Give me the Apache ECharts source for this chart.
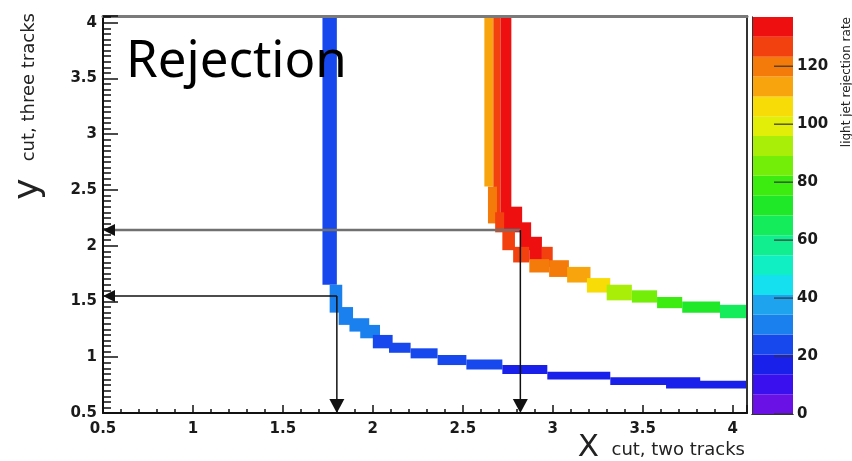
<!DOCTYPE html>
<html>
<head>
<meta charset="utf-8">
<script src="https://cdn.jsdelivr.net/npm/echarts@6/dist/echarts.min.js"></script>
<style>
html, body { margin: 0; padding: 0; background: #fff; }
#chart { width: 852px; height: 461px; }
</style>
</head>
<body>
<div id="chart"></div>
<script>
// Axis ranges of the cut plane and of the rejection-rate scale
const xRange = [0.5, 4.08];
const yRange = [0.5, 4.06];
const zRange = [0, 137];
const xTicks = [0.5, 1, 1.5, 2, 2.5, 3, 3.5, 4];
const yTicks = [0.5, 1, 1.5, 2, 2.5, 3, 3.5, 4];
const zTicks = [0, 20, 40, 60, 80, 100, 120];

// 20-level rainbow palette, violet (low) to red (high)
const palette = [
  '#6a12e6', '#3a10ee', '#1820ea', '#1648ee', '#1a80ee',
  '#1ea4ee', '#14e0f0', '#10eec4', '#10ee90', '#14ec5c',
  '#1ee828', '#3cec10', '#72ee08', '#a8ee08', '#e2ee08',
  '#f8dc08', '#f8a40c', '#f47a0a', '#f2400e', '#ee1010'
];

// Bins of the first working-point contour: [xLow, xHigh, yLow, yHigh, rejection]
const lowContour = [
  [1.72, 1.80, 1.65, 4.06, 24],
  [1.76, 1.83, 1.40, 1.65, 30],
  [1.81, 1.89, 1.29, 1.45, 31],
  [1.87, 1.98, 1.23, 1.35, 30],
  [1.93, 2.04, 1.17, 1.29, 28],
  [2.00, 2.11, 1.08, 1.20, 26],
  [2.09, 2.21, 1.04, 1.13, 25],
  [2.21, 2.36, 0.99, 1.08, 24],
  [2.36, 2.52, 0.93, 1.02, 23],
  [2.52, 2.72, 0.89, 0.98, 21],
  [2.72, 2.97, 0.85, 0.93, 20],
  [2.97, 3.32, 0.80, 0.87, 18],
  [3.32, 3.82, 0.75, 0.82, 17],
  [3.63, 4.08, 0.72, 0.79, 16]
];

// Bins of the second working-point contour: [xLow, xHigh, yLow, yHigh, rejection]
const highContour = [
  [2.62, 2.67, 2.53, 4.06, 113],
  [2.67, 2.71, 2.21, 4.06, 127],
  [2.71, 2.77, 2.14, 4.06, 134],
  [2.64, 2.69, 2.20, 2.53, 120],
  [2.76, 2.83, 2.12, 2.35, 133],
  [2.68, 2.73, 2.12, 2.30, 124],
  [2.72, 2.79, 1.96, 2.14, 126],
  [2.82, 2.88, 1.96, 2.21, 132],
  [2.78, 2.87, 1.85, 1.99, 125],
  [2.87, 2.94, 1.87, 2.08, 131],
  [2.94, 3.00, 1.81, 1.99, 126],
  [2.87, 2.98, 1.76, 1.88, 121],
  [2.98, 3.09, 1.72, 1.87, 119],
  [3.08, 3.21, 1.67, 1.81, 112],
  [3.19, 3.32, 1.58, 1.71, 105],
  [3.30, 3.44, 1.51, 1.65, 93],
  [3.44, 3.58, 1.49, 1.60, 86],
  [3.58, 3.72, 1.44, 1.54, 79],
  [3.72, 3.93, 1.40, 1.50, 74],
  [3.93, 4.08, 1.35, 1.47, 66]
];

// Chosen cut values: [x cut, y cut]
const workingPoints = [
  [1.80, 1.55],
  [2.82, 2.14]
];

// Drop lines from each working point to the two axes
const arrowSegments = [];
workingPoints.forEach(function (p, i) {
  arrowSegments.push([p[0], p[1], xRange[0], p[1], i * 2]);
  arrowSegments.push([p[0], p[1], p[0], yRange[0], i * 2 + 1]);
});
const arrowLook = [
  { color: '#111', width: 1.5, head: 12, headW: 12 },
  { color: '#111', width: 1.5, head: 14, headW: 15 },
  { color: '#707070', width: 2.5, head: 12, headW: 12 },
  { color: '#111', width: 1.5, head: 14, headW: 15 }
];

const nLevels = palette.length;
const levelStep = (zRange[1] - zRange[0]) / nLevels;
function rateColor(v) {
  const k = Math.max(0, Math.min(nLevels - 1, Math.floor((v - zRange[0]) / levelStep)));
  return palette[k];
}
const paletteBands = palette.map(function (c, i) {
  return [zRange[0] + i * levelStep, zRange[0] + (i + 1) * levelStep, i];
});

const labelFont = { fontFamily: 'DejaVu Sans', fontSize: 15, fontWeight: 'bold', color: '#1a1a1a' };
function tickFormatter(list) {
  return function (v) {
    for (let i = 0; i < list.length; i++) {
      if (Math.abs(list[i] - v) < 1e-6) return String(list[i]);
    }
    return '';
  };
}

const plotRect = { left: 103, top: 16, width: 644, height: 397 };
const barRect = { left: 752, top: 17, width: 41, height: 397 };

function binItem(params, api) {
  const p0 = api.coord([api.value(0), api.value(3)]);
  const p1 = api.coord([api.value(1), api.value(2)]);
  return {
    type: 'rect',
    shape: { x: p0[0], y: p0[1], width: p1[0] - p0[0], height: p1[1] - p0[1] },
    style: { fill: rateColor(api.value(4)) }
  };
}

function frameAxis(grid, pos, color, width) {
  return {
    gridIndex: grid, type: 'value', position: pos, z: 10,
    axisLine: { show: true, lineStyle: { color: color, width: width } },
    axisTick: { show: false }, axisLabel: { show: false }, splitLine: { show: false }
  };
}

const option = {
  animation: false,
  backgroundColor: '#fff',
  grid: [
    Object.assign({}, plotRect),
    Object.assign({}, plotRect),
    Object.assign({}, barRect)
  ],
  xAxis: [
    {
      gridIndex: 0, type: 'value', position: 'bottom', min: xRange[0], max: xRange[1], interval: 0.5, z: 10,
      axisLine: { show: true, lineStyle: { color: '#111', width: 2 } },
      axisTick: { show: true, inside: true, length: 8, lineStyle: { color: '#111', width: 1.5 } },
      axisLabel: Object.assign({ margin: 9, formatter: tickFormatter(xTicks) }, labelFont),
      splitLine: { show: false }
    },
    Object.assign(frameAxis(0, 'top', '#7a7a7a', 3), { min: xRange[0], max: xRange[1] }),
    {
      gridIndex: 1, type: 'value', position: 'bottom', min: xRange[0], max: xRange[1], interval: 0.1, z: 10,
      axisLine: { show: false },
      axisTick: { show: true, inside: true, length: 4, lineStyle: { color: '#111', width: 1.5 } },
      axisLabel: { show: false }, splitLine: { show: false }
    },
    Object.assign(frameAxis(2, 'bottom', '#333', 1), { min: 0, max: 1 }),
    Object.assign(frameAxis(2, 'top', '#333', 1), { min: 0, max: 1 })
  ],
  yAxis: [
    {
      gridIndex: 0, type: 'value', position: 'left', min: yRange[0], max: yRange[1], interval: 0.5, z: 10,
      axisLine: { show: true, lineStyle: { color: '#111', width: 2 } },
      axisTick: { show: true, inside: true, length: 15, lineStyle: { color: '#111', width: 1.5 } },
      axisLabel: Object.assign({ margin: 6, formatter: tickFormatter(yTicks) }, labelFont),
      splitLine: { show: false }
    },
    Object.assign(frameAxis(0, 'right', '#333', 2), { min: yRange[0], max: yRange[1] }),
    {
      gridIndex: 1, type: 'value', position: 'left', min: yRange[0], max: yRange[1], interval: 0.05, z: 10,
      axisLine: { show: false },
      axisTick: { show: true, inside: true, length: 8, lineStyle: { color: '#111', width: 1.5 } },
      axisLabel: { show: false }, splitLine: { show: false }
    },
    {
      gridIndex: 2, type: 'value', position: 'right', min: zRange[0], max: zRange[1], interval: 20, z: 10,
      axisLine: { show: true, lineStyle: { color: '#333', width: 1 } },
      axisTick: { show: false },
      axisLabel: Object.assign({ margin: 4, formatter: tickFormatter(zTicks) }, labelFont),
      splitLine: { show: false }
    },
    Object.assign(frameAxis(2, 'left', '#333', 1), { min: zRange[0], max: zRange[1] })
  ],
  series: [
    {
      type: 'custom', name: 'working point A', xAxisIndex: 0, yAxisIndex: 0,
      encode: { x: [0, 1], y: [2, 3] }, renderItem: binItem, data: lowContour, z: 2
    },
    {
      type: 'custom', name: 'working point B', xAxisIndex: 0, yAxisIndex: 0,
      encode: { x: [0, 1], y: [2, 3] }, renderItem: binItem, data: highContour, z: 2
    },
    {
      type: 'custom', name: 'cuts', xAxisIndex: 0, yAxisIndex: 0, z: 5,
      encode: { x: [0, 2], y: [1, 3] },
      renderItem: function (params, api) {
        const a = api.coord([api.value(0), api.value(1)]);
        const b = api.coord([api.value(2), api.value(3)]);
        const look = arrowLook[api.value(4)];
        const dx = b[0] - a[0], dy = b[1] - a[1];
        const len = Math.sqrt(dx * dx + dy * dy) || 1;
        const ux = dx / len, uy = dy / len;
        const bx = b[0] - ux * look.head, by = b[1] - uy * look.head;
        const hw = look.headW / 2;
        return {
          type: 'group',
          children: [
            { type: 'line', shape: { x1: a[0], y1: a[1], x2: bx, y2: by },
              style: { stroke: look.color, lineWidth: look.width } },
            { type: 'polygon',
              shape: { points: [[b[0], b[1]], [bx - uy * hw, by + ux * hw], [bx + uy * hw, by - ux * hw]] },
              style: { fill: '#111' } }
          ]
        };
      },
      data: arrowSegments
    },
    {
      type: 'custom', name: 'palette', xAxisIndex: 3, yAxisIndex: 3, z: 2,
      encode: { y: [0, 1] },
      renderItem: function (params, api) {
        const p0 = api.coord([0, api.value(1)]);
        const p1 = api.coord([1, api.value(0)]);
        return {
          type: 'rect',
          shape: { x: p0[0], y: p0[1], width: p1[0] - p0[0], height: p1[1] - p0[1] },
          style: { fill: palette[api.value(2)] }
        };
      },
      data: paletteBands
    },
    {
      // tick marks of the palette axis, drawn inward from its right edge
      type: 'custom', name: 'palette ticks', xAxisIndex: 3, yAxisIndex: 3, z: 6,
      encode: { y: 0 },
      renderItem: function (params, api) {
        const p = api.coord([1, api.value(0)]);
        return {
          type: 'line',
          shape: { x1: p[0] - 19, y1: p[1], x2: p[0], y2: p[1] },
          style: { stroke: '#333', lineWidth: 1.5, opacity: 0.8 }
        };
      },
      data: zTicks.map(function (t) { return [t]; })
    }
  ],
  graphic: [
    {
      type: 'text', x: 126, y: 62, z: 100,
      style: { text: 'Rejection', fontFamily: 'Noto Sans', fontSize: 51, fill: '#000', align: 'left', verticalAlign: 'middle' }
    },
    {
      type: 'text', x: 38, y: 13, rotation: Math.PI / 2, z: 100,
      style: { text: 'cut, three tracks', fontFamily: 'DejaVu Sans', fontSize: 18, fill: '#222', align: 'right', verticalAlign: 'bottom' }
    },
    {
      type: 'text', x: 47, y: 189, rotation: Math.PI / 2, z: 100,
      style: { text: 'y', fontFamily: 'DejaVu Sans', fontSize: 36, fill: '#222', align: 'center', verticalAlign: 'bottom' }
    },
    {
      type: 'text', x: 745, y: 459, z: 100,
      style: { text: 'cut, two tracks', fontFamily: 'DejaVu Sans', fontSize: 18, fill: '#222', align: 'right', verticalAlign: 'bottom' }
    },
    {
      type: 'text', x: 599, y: 463, z: 100,
      style: { text: 'X', fontFamily: 'DejaVu Sans', fontSize: 31, fill: '#222', align: 'right', verticalAlign: 'bottom' }
    },
    {
      type: 'text', x: 853, y: 17, rotation: Math.PI / 2, z: 100,
      style: { text: 'light jet rejection rate', fontFamily: 'DejaVu Sans', fontSize: 12, fill: '#222', align: 'right', verticalAlign: 'bottom' }
    }
  ]
};

const chart = echarts.init(document.getElementById('chart'), null, { renderer: 'canvas' });
chart.setOption(option);
</script>
</body>
</html>
